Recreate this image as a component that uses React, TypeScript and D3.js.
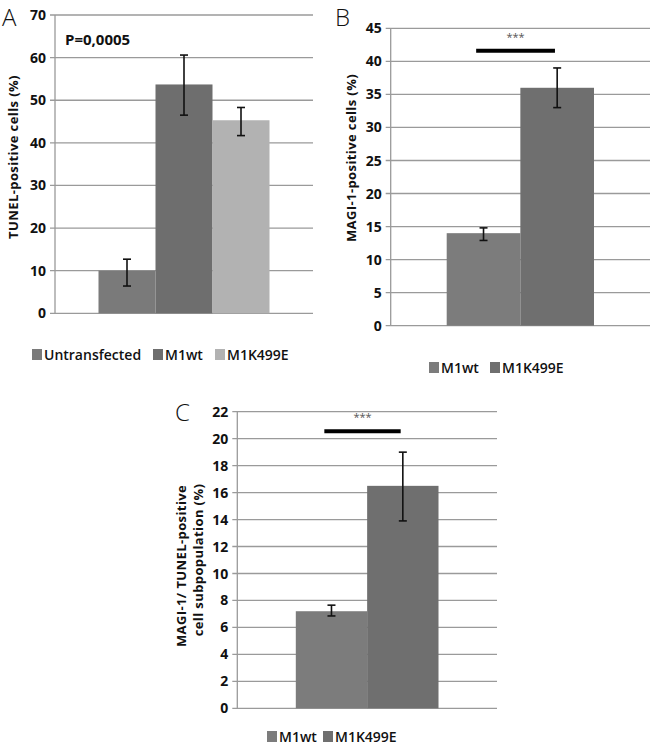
import * as d3 from "d3";
import React from "react";

// Panel A
const catsA = ["Untransfected", "M1wt", "M1K499E"];
const valsA = [10, 53.7, 45.3];
const errLoA = [6.4, 46.5, 41.7];
const errHiA = [12.7, 60.6, 48.3];
const colorsA = ["#7a7a7a", "#6e6e6e", "#b2b2b2"];
const ticksA = [0, 10, 20, 30, 40, 50, 60, 70];

// Panel B
const catsB = ["M1wt", "M1K499E"];
const valsB = [14, 36];
const errLoB = [12.9, 33];
const errHiB = [14.8, 39];
const colorsB = ["#7c7c7c", "#6f6f6f"];
const ticksB = [0, 5, 10, 15, 20, 25, 30, 35, 40, 45];

// Panel C
const catsC = ["M1wt", "M1K499E"];
const valsC = [7.2, 16.5];
const errLoC = [6.85, 13.9];
const errHiC = [7.65, 19];
const colorsC = ["#7c7c7c", "#6f6f6f"];
const ticksC = [0, 2, 4, 6, 8, 10, 12, 14, 16, 18, 20, 22];

const font = "'Open Sans', 'DejaVu Sans', sans-serif";

type PanelProps = {
  letter: string;
  letterX: number;
  letterY: number;
  cats: string[];
  vals: number[];
  lo: number[];
  hi: number[];
  colors: string[];
  ticks: number[];
  left: number;
  right: number;
  top: number;
  bottom: number;
  groupPad: number;
  yLabel: string[];
  yLabelX: number[];
  yLabelY: number[];
  legendY: number;
  legendX: number[];
  sig?: { value: number; from: number; to: number };
  note?: string;
};

const Panel = (p: PanelProps) => {
  const y = d3.scaleLinear().domain([0, d3.max(p.ticks)!]).range([p.bottom, p.top]);
  const x = d3.scaleBand().domain(p.cats).range([p.left + p.groupPad, p.right - p.groupPad]).padding(0);
  const bw = x.bandwidth();
  return (
    <g>
      <text x={p.letterX} y={p.letterY} fontFamily={font} fontSize={24} fontWeight={300} fill="#111">{p.letter}</text>
      {p.ticks.map(t => (
        <g key={t}>
          <line x1={p.left - 5} x2={p.right} y1={y(t)} y2={y(t)} stroke="#9a9a9a" strokeWidth={1.3} />
          <text x={p.left - 9} y={y(t)} dy="0.36em" textAnchor="end" fontFamily={font} fontWeight={700} fontSize={14} fill="#111">{t}</text>
        </g>
      ))}
      <line x1={p.left} x2={p.left} y1={p.top} y2={p.bottom} stroke="#9a9a9a" strokeWidth={1.3} />
      {p.cats.map((c, i) => (
        <rect key={c} x={x(c)} y={y(p.vals[i])} width={bw} height={p.bottom - y(p.vals[i])} fill={p.colors[i]} />
      ))}
      {p.cats.map((c, i) => {
        const cx = x(c)! + bw / 2;
        return (
          <g key={c} stroke="#111" strokeWidth={1.6}>
            <line x1={cx} x2={cx} y1={y(p.hi[i])} y2={y(p.lo[i])} />
            <line x1={cx - 4} x2={cx + 4} y1={y(p.hi[i])} y2={y(p.hi[i])} />
            <line x1={cx - 4} x2={cx + 4} y1={y(p.lo[i])} y2={y(p.lo[i])} />
          </g>
        );
      })}
      {p.sig && (
        <g>
          <line x1={x(p.cats[p.sig.from])! + bw * 0.4} x2={x(p.cats[p.sig.to])! + bw * 0.47} y1={y(p.sig.value)} y2={y(p.sig.value)} stroke="#000" strokeWidth={4} />
          <text x={(x(p.cats[p.sig.from])! + bw * 0.4 + x(p.cats[p.sig.to])! + bw * 0.47) / 2} y={y(p.sig.value) - 10} textAnchor="middle" fontFamily={font} fontSize={11} fill="#555">***</text>
        </g>
      )}
      {p.note && (
        <text x={p.left + 10} y={p.top + 30} fontFamily={font} fontWeight={700} fontSize={15} fill="#111">{p.note}</text>
      )}
      {p.yLabel.map((l, i) => (
        <text key={i} transform={`translate(${p.yLabelX[i]},${p.yLabelY[i]}) rotate(-90)`} textAnchor="middle" fontFamily={font} fontWeight={700} fontSize={13} letterSpacing={0.4} fill="#111">{l}</text>
      ))}
      {p.cats.map((c, i) => (
        <g key={c}>
          <rect x={p.legendX[i]} y={p.legendY - 6} width={10} height={11} fill={p.colors[i]} />
          <text x={p.legendX[i] + 12} y={p.legendY} dy="0.36em" fontFamily={font} fontWeight={600} fontSize={14} fill="#111">{c}</text>
        </g>
      ))}
    </g>
  );
};

const App = () => (
  <svg width={650} height={746} style={{ position: "absolute", left: 0, top: 0, background: "#fff" }}>
    <Panel letter="A" letterX={2} letterY={26} cats={catsA} vals={valsA} lo={errLoA} hi={errHiA} colors={colorsA} ticks={ticksA}
      left={55} right={313} top={15} bottom={313.3} groupPad={43.5}
      yLabel={["TUNEL-positive cells (%)"]} yLabelX={[18]} yLabelY={[157]}
      legendY={355} legendX={[32, 153, 215]} note="P=0,0005" />
    <Panel letter="B" letterX={335} letterY={26} cats={catsB} vals={valsB} lo={errLoB} hi={errHiB} colors={colorsB} ticks={ticksB}
      left={390.7} right={650} top={28.3} bottom={325.7} groupPad={56}
      yLabel={["MAGI-1-positive cells (%)"]} yLabelX={[356]} yLabelY={[158]}
      legendY={368} legendX={[429, 490]} sig={{ value: 41.6, from: 0, to: 1 }} />
    <Panel letter="C" letterX={175} letterY={421} cats={catsC} vals={valsC} lo={errLoC} hi={errHiC} colors={colorsC} ticks={ticksC}
      left={237.3} right={497} top={411.7} bottom={708.3} groupPad={58.5}
      yLabel={["MAGI-1/ TUNEL-positive", "cell subpopulation  (%)"]} yLabelX={[186, 203]} yLabelY={[566, 560]}
      legendY={737} legendX={[267, 323]} sig={{ value: 20.55, from: 0, to: 1 }} />
  </svg>
);

export default App;
